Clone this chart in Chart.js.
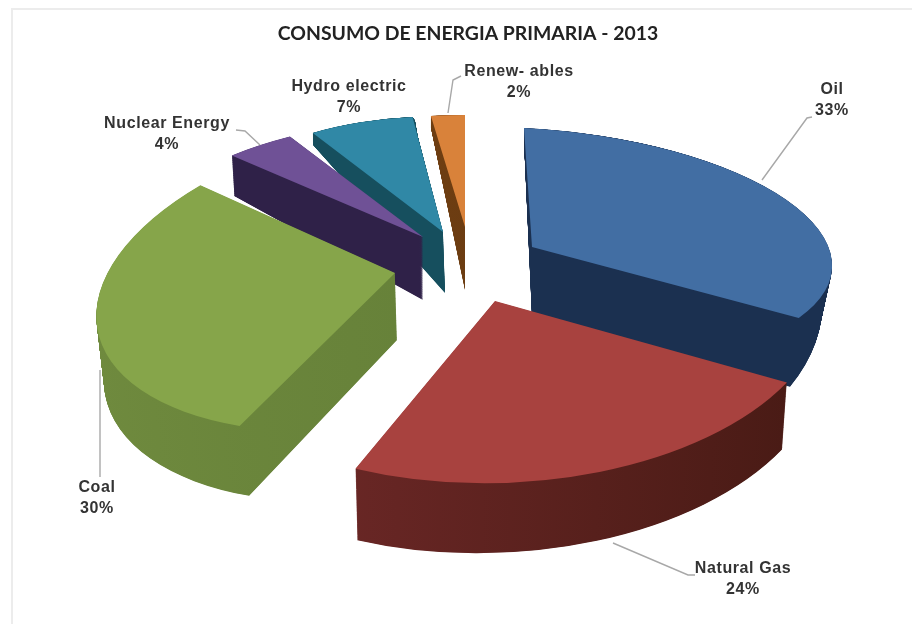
<!DOCTYPE html>
<html>
<head>
<meta charset="utf-8">
<style>
  html, body { margin: 0; padding: 0; background: #ffffff; }
  canvas { display: block; }
</style>
<script src="https://cdn.jsdelivr.net/npm/chart.js@4/dist/chart.umd.min.js"></script>
</head>
<body>
<canvas id="grafico" width="912" height="624"></canvas>
<script>
const fontes = ["Oil", "Natural Gas", "Coal", "Nuclear Energy", "Hydro electric", "Renew- ables"];
const percentuais = [33, 24, 30, 4, 7, 2];
const titulo = "CONSUMO DE ENERGIA PRIMARIA - 2013";

const coresFace = ["#426ea3", "#a8423f", "#86a54a", "#6f5196", "#3088a6", "#d9823a"];
const coresLadoEsq = ["#1b3050", "#752b2b", "#6f8a3e", "#2f2148", "#164f5e", "#7a4513"];
const coresLadoDir = ["#1b3050", "#471a14", "#5f7a35", "#2f2148", "#164f5e", "#5e3410"];

// perspectiva de cada fatia: ponta + matriz (px por raio), face de cima e base
const perspectiva = [
    { ponta: [532, 247], topo: [300, 8, 15.5, 119], pontaBase: [532, 316], base: [290, 8, -16, 176] },
    { ponta: [495, 301], topo: [332, 2, -7, 182], pontaBase: [497, 371], base: [326, -1, -10.7, 182] },
    { ponta: [395, 273], topo: [297, -32, -26.5, 156.5], pontaBase: [397, 340], base: [292, -26, -26, 160] },
    { ponta: [423, 237], topo: [283, -22, 0, 119], pontaBase: [423, 300], base: [273, -15, -19, 172] },
    { ponta: [443, 232], topo: [243, 0, 2.7, 115.6], pontaBase: [445, 293], base: [248, -1, 4, 173] },
    { ponta: [465, 227], topo: [272, 0, 0, 112], pontaBase: [465, 290], base: [272, 0, 0, 164] }
];
const ordemDesenho = [5, 4, 3, 2, 0, 1];

// posicao dos rotulos e linhas de chamada
const rotulos = [
    { x: 832, y: 90, linha: [[762, 180], [807, 118], [812, 117]] },
    { x: 743, y: 569, linha: [[613, 543], [688, 575], [695, 575]] },
    { x: 97, y: 488, linha: [[100, 370], [100, 477]] },
    { x: 167, y: 124, linha: [[260, 145], [245, 131], [236, 130]] },
    { x: 349, y: 87, linha: [] },
    { x: 519, y: 72, linha: [[448, 113], [453, 80], [461, 76]] }
];

function misturar(a, b, t) {
    return a + (b - a) * t;
}

function desenharCamada(ctx, arco, ponta, m, cor) {
    const r = arco.outerRadius;
    const original = arco.options;
    ctx.save();
    ctx.translate(ponta[0], ponta[1]);
    ctx.transform(m[0] / r, m[2] / r, m[1] / r, m[3] / r, 0, 0);
    ctx.translate(-arco.x, -arco.y);
    const opcoes = Object.create(original);
    opcoes.backgroundColor = typeof cor === "function" ? cor(ctx) : cor;
    arco.options = opcoes;
    arco.draw(ctx);
    arco.options = original;
    ctx.restore();
}

const pizza3d = {
    id: "pizza3d",
    beforeDraw(chart) {
        const ctx = chart.ctx;
        ctx.save();
        ctx.strokeStyle = "#ececec";
        ctx.lineWidth = 2;
        ctx.strokeRect(12, 9, 920, 640);
        ctx.restore();
    },
    beforeDatasetsDraw(chart) {
        const ctx = chart.ctx;
        const arcos = chart.getDatasetMeta(0).data;
        const passos = 140;

        ordemDesenho.forEach(i => {
            const arco = arcos[i];
            const p = perspectiva[i];
            const gradiente = () => {
                const g = ctx.createLinearGradient(arco.x - arco.outerRadius, 0, arco.x + arco.outerRadius, 0);
                g.addColorStop(0, coresLadoEsq[i]);
                g.addColorStop(1, coresLadoDir[i]);
                return g;
            };
            for (let k = 0; k < passos; k++) {
                const t = k / passos;
                const ponta = [misturar(p.pontaBase[0], p.ponta[0], t), misturar(p.pontaBase[1], p.ponta[1], t)];
                const m = p.base.map((v, j) => misturar(v, p.topo[j], t));
                desenharCamada(ctx, arco, ponta, m, gradiente);
            }
            desenharCamada(ctx, arco, p.ponta, p.topo, coresFace[i]);
        });
        return false;
    },
    afterDraw(chart) {
        const ctx = chart.ctx;
        ctx.save();
        ctx.textAlign = "center";
        ctx.textBaseline = "middle";
        rotulos.forEach((r, i) => {
            if (r.linha.length) {
                ctx.strokeStyle = "#a8a8a8";
                ctx.lineWidth = 1.4;
                ctx.beginPath();
                r.linha.forEach((pt, j) => j ? ctx.lineTo(pt[0], pt[1]) : ctx.moveTo(pt[0], pt[1]));
                ctx.stroke();
            }
            ctx.fillStyle = "#333333";
            ctx.font = "bold 16px 'Liberation Sans'";
            ctx.letterSpacing = "0.6px";
            ctx.fillText(fontes[i], r.x, r.y);
            ctx.fillText(percentuais[i] + "%", r.x, r.y + 21);
        });
        ctx.restore();
    }
};

new Chart(document.getElementById("grafico").getContext("2d"), {
    type: "pie",
    data: {
        labels: fontes,
        datasets: [{
            data: percentuais,
            backgroundColor: coresFace,
            borderWidth: 0
        }]
    },
    options: {
        responsive: false,
        animation: false,
        layout: { padding: { left: 24 } },
        plugins: {
            legend: { display: false },
            tooltip: { enabled: false },
            title: {
                display: true,
                text: titulo,
                color: "#222222",
                font: { family: "Lato", size: 19.4, weight: "bold" },
                padding: { top: 22, bottom: 10 }
            }
        }
    },
    plugins: [pizza3d]
});
</script>
</body>
</html>
